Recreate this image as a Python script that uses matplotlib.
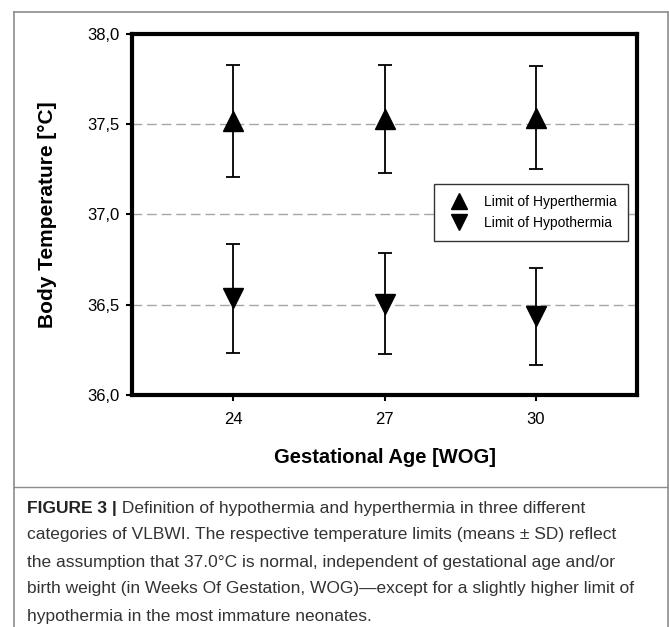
import matplotlib.pyplot as plt
from matplotlib.lines import Line2D

# gestational age groups and temperature limits (mean +/- SD)
weeks = [24, 27, 30]
hyper_mean = [37.52, 37.53, 37.535]
hyper_sd = [0.31, 0.30, 0.285]
hypo_mean = [36.535, 36.505, 36.435]
hypo_sd = [0.30, 0.28, 0.27]
yticks = [36.0, 36.5, 37.0, 37.5, 38.0]
ytick_labels = ["36,0", "36,5", "37,0", "37,5", "38,0"]

caption_lines = [
    "categories of VLBWI. The respective temperature limits (means \u00b1 SD) reflect",
    "the assumption that 37.0\u00b0C is normal, independent of gestational age and/or",
    "birth weight (in Weeks Of Gestation, WOG)\u2014except for a slightly higher limit of",
    "hypothermia in the most immature neonates.",
]

plt.rcParams['font.family'] = ['Liberation Sans', 'DejaVu Sans']

fig = plt.figure(figsize=(6.69, 6.27), dpi=100)
ax = fig.add_axes([0.1973, 0.37, 0.7549, 0.5758])

for y in [36.5, 37.0, 37.5]:
    ax.axhline(y, color='#a6a6a6', lw=1.0, dashes=(7, 3.5), zorder=1)

ax.errorbar(weeks, hyper_mean, yerr=hyper_sd, fmt='^', color='black',
            ms=14, ecolor='black', elinewidth=1.3, capsize=5, capthick=1.3, zorder=3)
ax.errorbar(weeks, hypo_mean, yerr=hypo_sd, fmt='v', color='black',
            ms=14, ecolor='black', elinewidth=1.3, capsize=5, capthick=1.3, zorder=3)

ax.set_xlim(22, 32)
ax.set_ylim(36.0, 38.0)
ax.set_xticks(weeks)
ax.set_yticks(yticks)
ax.set_yticklabels(ytick_labels)
ax.tick_params(axis='both', labelsize=12, length=4, width=1.5, direction='out')
ax.tick_params(axis='y', pad=5)
ax.tick_params(axis='x', pad=8)
for s in ax.spines.values():
    s.set_linewidth(3)

ax.set_xlabel("Gestational Age [WOG]", fontsize=14.5, fontweight='bold', labelpad=15)
ax.set_ylabel("Body Temperature [\u00b0C]", fontsize=15, fontweight='bold', labelpad=22)

handles = [
    Line2D([], [], marker='^', color='black', ls='none', ms=12),
    Line2D([], [], marker='v', color='black', ls='none', ms=12),
]
leg = ax.legend(handles, ["Limit of Hyperthermia", "Limit of Hypothermia"],
                loc='upper left', bbox_to_anchor=(0.585, 0.605), fontsize=10,
                frameon=True, fancybox=False, framealpha=1, edgecolor='#333333',
                borderpad=0.8, handletextpad=0.8, labelspacing=0.5)
leg.get_frame().set_linewidth(1.0)

# outer frame and separator
frame_col = '#8c8c8c'
fig.add_artist(Line2D([14 / 669, 14 / 669], [0, 1 - 12 / 627], color=frame_col, lw=1.2))
fig.add_artist(Line2D([668 / 669, 668 / 669], [0, 1 - 12 / 627], color=frame_col, lw=1.2))
fig.add_artist(Line2D([14 / 669, 668 / 669], [1 - 12 / 627, 1 - 12 / 627], color=frame_col, lw=1.2))
fig.add_artist(Line2D([14 / 669, 668 / 669], [1 - 487 / 627, 1 - 487 / 627], color=frame_col, lw=1.0))

# caption
cap_x = 27 / 669
cap_size = 12.5
t = fig.text(cap_x, 1 - 508 / 627, "FIGURE 3 |", fontsize=cap_size, fontweight='bold',
             color='#222222', va='center')
fig.canvas.draw()
bb = t.get_window_extent()
fig.text(bb.x1 / fig.bbox.width, 1 - 508 / 627, " Definition of hypothermia and hyperthermia in three different",
         fontsize=cap_size, color='#333333', va='center')
for i, line in enumerate(caption_lines):
    fig.text(cap_x, 1 - (535 + 27 * i) / 627, line, fontsize=cap_size, color='#333333', va='center')

fig.savefig("out.png", dpi=100)
